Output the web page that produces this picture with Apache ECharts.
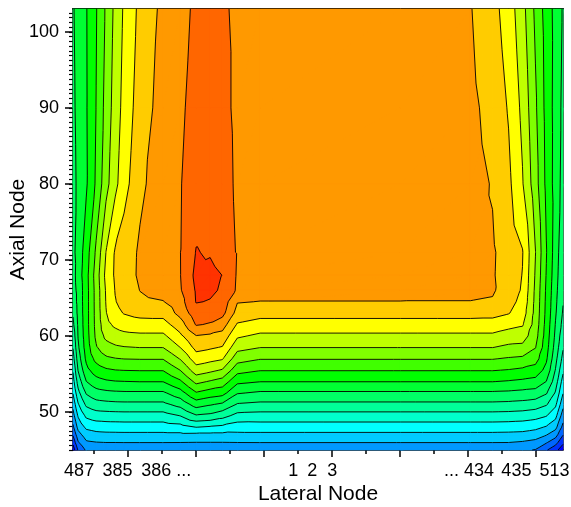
<!DOCTYPE html>
<html><head><meta charset="utf-8">
<script src="https://cdn.jsdelivr.net/npm/echarts@6/dist/echarts.min.js"></script>
<style>html,body{margin:0;padding:0;background:#fff}#c{width:571px;height:507px}</style>
</head><body><div id="c"></div>
<script>
// Lateral positions of data columns (axis units)
const lateralPos = [0.40, 0.55, 0.79, 1.08, 1.37, 1.64, 1.90, 2.37, 3.05, 3.55, 4.02, 4.43, 4.79, 5.23, 5.90, 10.02, 12.08, 12.73, 13.20, 13.61, 13.99, 14.31, 14.58, 14.80];
// Axial positions of data rows
const axialPos = [45, 46, 47, 48, 49.5, 51, 52.5, 54, 55.5, 57, 58.5, 60, 61.5, 63, 64.5, 66, 68, 71, 80, 90, 103];
// Field values, one row per axial position
const r45  = [0.4, 2.1, 3.15, 3.2, 3.22, 3.24, 3.25, 3.25, 3.25, 3.2, 3.1, 3.15, 3.15, 3.25, 3.25, 3.25, 3.25, 3.25, 3.23, 3.15, 2.95, 2.1, 1.3, 0.4];
const r46  = [1.3, 2.9, 3.85, 3.97, 4.01, 4.01, 4.02, 4.02, 4.02, 4.01, 3.99, 3.99, 3.99, 4.01, 4.02, 4.02, 4.02, 4.02, 4.01, 3.9, 3.7, 3.1, 2.4, 1.2];
const r47  = [2.1, 3.6, 4.5, 4.7, 4.75, 4.76, 4.77, 4.77, 4.77, 4.77, 4.74, 4.74, 4.74, 4.77, 4.77, 4.77, 4.77, 4.77, 4.75, 4.7, 4.5, 4.05, 3.4, 2.05];
const r48  = [2.8, 4.3, 5.2, 5.4, 5.47, 5.48, 5.5, 5.5, 5.5, 5.61, 6.01, 5.87, 5.75, 5.46, 5.5, 5.5, 5.5, 5.5, 5.47, 5.42, 5.25, 4.9, 4.3, 2.7];
const r49  = [3.6, 5.1, 6.2, 6.5, 6.55, 6.58, 6.6, 6.6, 6.6, 7.01, 7.89, 7.75, 7.36, 6.67, 6.6, 6.6, 6.6, 6.6, 6.57, 6.5, 6.35, 6.05, 5.3, 3.5];
const r51  = [4.3, 5.9, 7.2, 7.6, 7.7, 7.75, 7.77, 7.77, 7.77, 8.33, 9.44, 9.1, 8.82, 7.92, 7.77, 7.77, 7.77, 7.77, 7.73, 7.65, 7.5, 7.1, 6.2, 4.3];
const r52  = [5.05, 6.7, 8.1, 8.6, 8.75, 8.82, 8.85, 8.85, 8.85, 9.58, 10.91, 10.55, 10.36, 9.08, 8.85, 8.85, 8.85, 8.85, 8.8, 8.7, 8.6, 8.1, 6.9, 5.05];
const r54  = [5.6, 7.4, 8.98, 9.6, 9.85, 9.95, 9.98, 10.02, 10.02, 10.83, 12.27, 11.91, 11.58, 10.23, 10.02, 10.02, 10.02, 10.02, 9.92, 9.8, 9.65, 8.98, 7.5, 5.6];
const r55  = [6.1, 8.05, 9.7, 10.5, 10.85, 10.98, 11.02, 11.05, 11.05, 12.01, 13.54, 13.23, 12.91, 11.36, 11.05, 11.05, 11.05, 11.05, 10.95, 10.8, 10.6, 9.7, 7.95, 6.2];
const r57  = [6.6, 8.5, 10.2, 11.3, 11.8, 11.95, 12.02, 12.05, 12.05, 13.06, 14.53, 14.29, 14.08, 12.4, 12.05, 12.05, 12.05, 12.05, 11.9, 11.8, 11.4, 10.15, 8.3, 6.7];
const r58  = [7.05, 8.85, 10.45, 11.9, 12.6, 12.85, 12.95, 13.02, 13.02, 14.01, 15.3, 15.13, 14.94, 13.33, 13.02, 13.02, 13.02, 13.02, 12.8, 12.75, 12.05, 10.4, 8.6, 7.1];
const r60  = [7.4, 9.05, 10.55, 12.2, 13.25, 13.55, 13.72, 13.8, 13.8, 14.79, 15.96, 15.82, 15.64, 14.15, 13.8, 13.8, 13.8, 13.8, 13.55, 13.45, 12.4, 10.55, 8.8, 7.4];
const r61  = [7.8, 9.15, 10.6, 12.3, 13.7, 14.2, 14.45, 14.6, 14.6, 15.55, 17.08, 16.91, 16.45, 14.9, 14.6, 14.6, 14.6, 14.6, 14.3, 14.1, 12.6, 10.65, 8.95, 7.7];
const r63  = [8.1, 9.25, 10.6, 12.33, 13.95, 14.7, 15.05, 15.3, 15.35, 16.3, 17.6, 17.45, 17.3, 15.63, 15.35, 15.35, 15.35, 15.3, 15.05, 14.5, 12.7, 10.75, 9.1, 7.9];
const r64  = [8.35, 9.3, 10.6, 12.35, 14.05, 14.95, 15.35, 15.8, 15.96, 16.6, 18.05, 17.95, 17.6, 16.05, 15.98, 15.98, 15.98, 15.9, 15.3, 14.75, 12.75, 10.8, 9.2, 8.05];
const r66  = [8.55, 9.3, 10.6, 12.36, 14.1, 15.04, 15.42, 16.02, 16.35, 16.9, 18.1, 18.15, 17.9, 16.85, 16.3, 16.3, 16.2, 16.12, 15.5, 14.9, 12.8, 10.85, 9.3, 8.1];
const r68  = [8.6, 9.45, 10.65, 12.45, 14.28, 15.15, 15.55, 16.15, 16.55, 16.97, 18.25, 18.4, 17.98, 16.9, 16.4, 16.4, 16.25, 16.08, 15.58, 14.97, 12.9, 10.95, 9.4, 8.2];
const r71  = [8.75, 9.38, 10.5, 12.18, 14.02, 15.1, 15.52, 16.13, 16.63, 16.98, 18.05, 17.88, 17.35, 16.95, 16.45, 16.45, 16.3, 16.1, 15.61, 15.05, 13.02, 11.05, 9.5, 8.3];
const r80  = [8.73, 9.18, 9.88, 11.15, 12.65, 13.74, 14.61, 15.81, 16.52, 16.96, 17.4, 17.45, 17.3, 16.88, 16.5, 16.5, 16.35, 15.94, 15.22, 14.07, 12.43, 10.77, 9.6, 8.64];
const r90  = [8.83, 9.25, 9.92, 11.02, 12.36, 13.47, 14.33, 15.5, 16.41, 16.86, 17.3, 17.35, 17.2, 16.85, 16.5, 16.5, 16.22, 15.68, 14.92, 13.76, 12.16, 10.68, 9.63, 8.75];
const r103 = [8.92, 9.31, 9.94, 10.93, 12.14, 13.27, 14.13, 15.26, 16.25, 16.74, 17.15, 17.22, 17.12, 16.85, 16.5, 16.5, 16.05, 15.34, 14.53, 13.35, 11.8, 10.57, 9.68, 8.9];
const zRows = [r45, r46, r47, r48, r49, r51, r52, r54, r55, r57, r58, r60, r61, r63, r64, r66, r68, r71, r80, r90, r103];

// Contour levels and band colours (band k lies between levels[k-1] and levels[k])
const levels = [1, 2, 3, 4, 5, 6, 7, 8, 9, 10, 11, 12, 13, 14, 15, 16, 17, 18];
const bandColors = ['#0000FF', '#0033FF', '#0066FF', '#0099FF', '#00CCFF', '#00FFFF', '#00FFCC', '#00FF99', '#00FF66', '#00FF33',
                    '#00FF00', '#40FF00', '#80FF00', '#BFFF00', '#FFFF00', '#FFCC00', '#FF9900', '#FF6600', '#FF3300'];

// Axis ticks and labels
const xTickLabels = ['487', '385', '386 ...', '1', '2', '3', '... 434', '435', '513'];
const xTickLabelPos = [0.58, 1.71, 3.14, 6.87, 7.43, 8.02, 12.04, 13.43, 14.55];
const xMajorTicks = [2, 4, 6, 8, 10, 12, 14];
const xMinorTicks = [1, 3, 5, 7, 9, 11, 13];
const yTickLabels = [50, 60, 70, 80, 90, 100];
const yMinorStep = 0.625;

const yMinorTicks = [];
for (let v = 45; v <= 103.001; v += yMinorStep) yMinorTicks.push(+v.toFixed(3));

const FONT = 'Liberation Sans, Arial, sans-serif';

function clip(poly, t, above) {
  const out = [];
  for (let i = 0; i < poly.length; i++) {
    const A = poly[i], B = poly[(i + 1) % poly.length];
    const ia = above ? A.z >= t : A.z <= t;
    const ib = above ? B.z >= t : B.z <= t;
    if (ia) out.push(A);
    if (ia !== ib) {
      const s = (t - A.z) / (B.z - A.z);
      out.push({x: A.x + s * (B.x - A.x), y: A.y + s * (B.y - A.y), z: t});
    }
  }
  return out;
}

function renderItem(params, api) {
  const nb = levels.length + 1;
  const bandPaths = new Array(nb).fill('');
  let linePath = '';
  const pt = (i, j) => {
    const c = api.coord([lateralPos[i], axialPos[j]]);
    return {x: c[0], y: c[1], z: zRows[j][i]};
  };
  const f = v => v.toFixed(2);
  for (let j = 0; j < axialPos.length - 1; j++) {
    for (let i = 0; i < lateralPos.length - 1; i++) {
      const a = pt(i, j), b = pt(i + 1, j), c = pt(i + 1, j + 1), d = pt(i, j + 1);
      const tris = [[a, b, c], [a, c, d]];
      for (const tri of tris) {
        const zs = tri.map(p => p.z);
        const zmin = Math.min(...zs), zmax = Math.max(...zs);
        for (let k = 0; k < nb; k++) {
          const lo = k === 0 ? -Infinity : levels[k - 1];
          const hi = k === nb - 1 ? Infinity : levels[k];
          if (zmax < lo || zmin > hi) continue;
          let poly = tri;
          if (lo > -Infinity) poly = clip(poly, lo, true);
          if (poly.length >= 3 && hi < Infinity) poly = clip(poly, hi, false);
          if (poly.length < 3) continue;
          let s = 'M' + f(poly[0].x) + ' ' + f(poly[0].y);
          for (let q = 1; q < poly.length; q++) s += 'L' + f(poly[q].x) + ' ' + f(poly[q].y);
          bandPaths[k] += s + 'Z';
        }
        for (const L of levels) {
          if (L <= zmin || L >= zmax) continue;
          const pts = [];
          for (let e = 0; e < 3; e++) {
            const A = tri[e], B = tri[(e + 1) % 3];
            if ((A.z - L) * (B.z - L) < 0) {
              const s = (L - A.z) / (B.z - A.z);
              pts.push([A.x + s * (B.x - A.x), A.y + s * (B.y - A.y)]);
            }
          }
          if (pts.length === 2) linePath += 'M' + f(pts[0][0]) + ' ' + f(pts[0][1]) + 'L' + f(pts[1][0]) + ' ' + f(pts[1][1]);
        }
      }
    }
  }
  const children = [];
  bandPaths.forEach((p, k) => {
    if (p) children.push({type: 'path', shape: {pathData: p}, style: {fill: bandColors[k], stroke: bandColors[k], lineWidth: 0.6}});
  });
  children.push({type: 'path', shape: {pathData: linePath}, style: {fill: null, stroke: '#000', lineWidth: 0.9}});
  return {type: 'group', children};
}

const chart = echarts.init(document.getElementById('c'), null, {renderer: 'canvas'});
const axisLineStyle = {color: '#000', width: 1.5};
chart.setOption({
  animation: false,
  backgroundColor: '#fff',
  grid: {left: 73, top: 9, right: 8, bottom: 57, containLabel: false, outerBoundsMode: 'none'},
  xAxis: [
    {
      type: 'value', min: 0.4, max: 14.8, position: 'bottom',
      axisLine: {show: true, onZero: false, lineStyle: axisLineStyle},
      axisTick: {show: true, customValues: xMajorTicks, length: 7, lineStyle: {color: '#000', width: 1.5}},
      axisLabel: {show: true, customValues: xTickLabelPos, margin: 12, fontSize: 18, color: '#000', fontFamily: FONT,
        formatter: v => { const i = xTickLabelPos.findIndex(p => Math.abs(p - v) < 1e-6); return i >= 0 ? xTickLabels[i] : ''; }},
      splitLine: {show: false},
      name: 'Lateral Node', nameLocation: 'middle', nameGap: 34, nameMoveOverlap: false,
      nameTextStyle: {fontSize: 21, color: '#000', fontFamily: FONT}
    },
    {
      type: 'value', min: 0.4, max: 14.8, position: 'bottom',
      axisLine: {show: false},
      axisTick: {show: true, customValues: xMinorTicks, length: 4, lineStyle: {color: '#000', width: 1.5}},
      axisLabel: {show: false}, splitLine: {show: false}
    },
    {
      type: 'value', min: 0.4, max: 14.8, position: 'top',
      axisLine: {show: true, onZero: false, lineStyle: {color: '#000', width: 2}},
      axisTick: {show: false}, axisLabel: {show: false}, splitLine: {show: false}
    }
  ],
  yAxis: [
    {
      type: 'value', min: 45, max: 103, position: 'left',
      axisLine: {show: true, onZero: false, lineStyle: axisLineStyle},
      axisTick: {show: true, customValues: yTickLabels, length: 8, lineStyle: {color: '#000', width: 1.5}},
      axisLabel: {show: true, customValues: yTickLabels, margin: 14, fontSize: 18, color: '#000', fontFamily: FONT},
      splitLine: {show: false},
      name: 'Axial Node', nameLocation: 'middle', nameGap: 44, nameMoveOverlap: false,
      nameTextStyle: {fontSize: 21, color: '#000', fontFamily: FONT}
    },
    {
      type: 'value', min: 45, max: 103, position: 'left',
      axisLine: {show: false},
      axisTick: {show: true, customValues: yMinorTicks, length: 4, lineStyle: {color: '#000', width: 1.2}},
      axisLabel: {show: false}, splitLine: {show: false}
    },
    {
      type: 'value', min: 45, max: 103, position: 'right',
      axisLine: {show: true, onZero: false, lineStyle: {color: '#555', width: 1}},
      axisTick: {show: false}, axisLabel: {show: false}, splitLine: {show: false}
    }
  ],
  series: [{
    type: 'custom', coordinateSystem: 'cartesian2d', xAxisIndex: 0, yAxisIndex: 0,
    silent: true, renderItem: renderItem,
    data: [[lateralPos[0], axialPos[0]]]
  }]
});
</script>
</body></html>
